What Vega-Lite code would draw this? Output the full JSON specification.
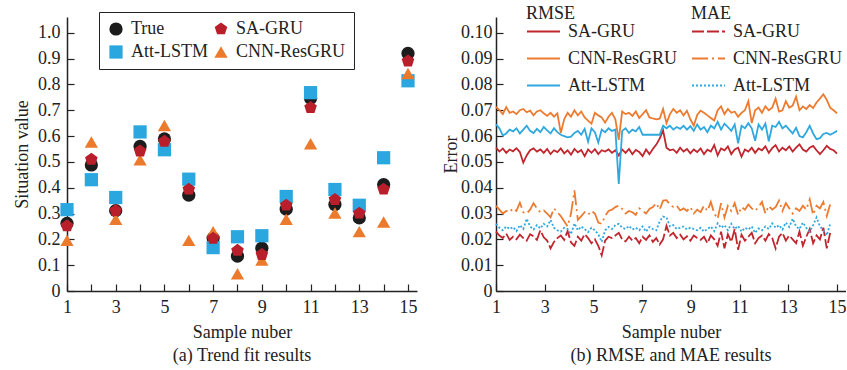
{
  "$schema": "https://vega.github.io/schema/vega-lite/v6.json",
  "padding": {"left": 13, "top": 5, "right": 0, "bottom": 0},
  "background": "white",
  "spacing": 25,
  "config": {
    "font": "Liberation Serif",
    "view": {"stroke": null},
    "axis": {
      "domainColor": "#222",
      "domainWidth": 1.5,
      "tickColor": "#222",
      "tickWidth": 1.2,
      "tickSize": -7,
      "grid": false,
      "labelOverlap": false,
      "labelFont": "Liberation Serif",
      "labelFontSize": 18,
      "labelColor": "#222",
      "titleFont": "Liberation Serif",
      "titleFontSize": 18,
      "titleFontWeight": "normal",
      "titleColor": "#222"
    },
    "legend": {
      "labelFont": "Liberation Serif",
      "labelFontSize": 18,
      "labelColor": "#222",
      "titleFont": "Liberation Serif",
      "titleFontSize": 18,
      "titleFontWeight": "normal",
      "titleColor": "#222"
    },
    "title": {"font": "Liberation Serif", "fontSize": 18, "fontWeight": "normal", "color": "#222"}
  },
  "resolve": {"scale": {"color": "independent", "shape": "independent", "strokeDash": "independent", "x": "independent", "y": "independent"}},
  "datasets": {
    "fit": [
      {"model": "True", "sample": 1, "value": 0.262}, {"model": "True", "sample": 2, "value": 0.488}, {"model": "True", "sample": 3, "value": 0.311}, {"model": "True", "sample": 4, "value": 0.560}, {"model": "True", "sample": 5, "value": 0.589}, {"model": "True", "sample": 6, "value": 0.371}, {"model": "True", "sample": 7, "value": 0.205}, {"model": "True", "sample": 8, "value": 0.135}, {"model": "True", "sample": 9, "value": 0.166}, {"model": "True", "sample": 10, "value": 0.317}, {"model": "True", "sample": 11, "value": 0.746}, {"model": "True", "sample": 12, "value": 0.335}, {"model": "True", "sample": 13, "value": 0.283}, {"model": "True", "sample": 14, "value": 0.412}, {"model": "True", "sample": 15, "value": 0.920},
      {"model": "Att-LSTM", "sample": 1, "value": 0.315}, {"model": "Att-LSTM", "sample": 2, "value": 0.431}, {"model": "Att-LSTM", "sample": 3, "value": 0.362}, {"model": "Att-LSTM", "sample": 4, "value": 0.616}, {"model": "Att-LSTM", "sample": 5, "value": 0.547}, {"model": "Att-LSTM", "sample": 6, "value": 0.433}, {"model": "Att-LSTM", "sample": 7, "value": 0.168}, {"model": "Att-LSTM", "sample": 8, "value": 0.210}, {"model": "Att-LSTM", "sample": 9, "value": 0.214}, {"model": "Att-LSTM", "sample": 10, "value": 0.366}, {"model": "Att-LSTM", "sample": 11, "value": 0.768}, {"model": "Att-LSTM", "sample": 12, "value": 0.393}, {"model": "Att-LSTM", "sample": 13, "value": 0.332}, {"model": "Att-LSTM", "sample": 14, "value": 0.516}, {"model": "Att-LSTM", "sample": 15, "value": 0.814},
      {"model": "CNN-ResGRU", "sample": 1, "value": 0.196}, {"model": "CNN-ResGRU", "sample": 2, "value": 0.577}, {"model": "CNN-ResGRU", "sample": 3, "value": 0.278}, {"model": "CNN-ResGRU", "sample": 4, "value": 0.508}, {"model": "CNN-ResGRU", "sample": 5, "value": 0.641}, {"model": "CNN-ResGRU", "sample": 6, "value": 0.196}, {"model": "CNN-ResGRU", "sample": 7, "value": 0.230}, {"model": "CNN-ResGRU", "sample": 8, "value": 0.067}, {"model": "CNN-ResGRU", "sample": 9, "value": 0.120}, {"model": "CNN-ResGRU", "sample": 10, "value": 0.278}, {"model": "CNN-ResGRU", "sample": 11, "value": 0.570}, {"model": "CNN-ResGRU", "sample": 12, "value": 0.302}, {"model": "CNN-ResGRU", "sample": 13, "value": 0.230}, {"model": "CNN-ResGRU", "sample": 14, "value": 0.267}, {"model": "CNN-ResGRU", "sample": 15, "value": 0.842},
      {"model": "SA-GRU", "sample": 1, "value": 0.252}, {"model": "SA-GRU", "sample": 2, "value": 0.510}, {"model": "SA-GRU", "sample": 3, "value": 0.311}, {"model": "SA-GRU", "sample": 4, "value": 0.542}, {"model": "SA-GRU", "sample": 5, "value": 0.579}, {"model": "SA-GRU", "sample": 6, "value": 0.394}, {"model": "SA-GRU", "sample": 7, "value": 0.204}, {"model": "SA-GRU", "sample": 8, "value": 0.157}, {"model": "SA-GRU", "sample": 9, "value": 0.141}, {"model": "SA-GRU", "sample": 10, "value": 0.332}, {"model": "SA-GRU", "sample": 11, "value": 0.710}, {"model": "SA-GRU", "sample": 12, "value": 0.354}, {"model": "SA-GRU", "sample": 13, "value": 0.301}, {"model": "SA-GRU", "sample": 14, "value": 0.394}, {"model": "SA-GRU", "sample": 15, "value": 0.890}
    ],
    "rmse": [
      {"x": 1.00, "SA-GRU": 0.0555, "CNN-ResGRU": 0.0713, "Att-LSTM": 0.0645},
      {"x": 1.14, "SA-GRU": 0.0540, "CNN-ResGRU": 0.0700, "Att-LSTM": 0.0630},
      {"x": 1.28, "SA-GRU": 0.0552, "CNN-ResGRU": 0.0685, "Att-LSTM": 0.0602},
      {"x": 1.42, "SA-GRU": 0.0535, "CNN-ResGRU": 0.0712, "Att-LSTM": 0.0610},
      {"x": 1.56, "SA-GRU": 0.0548, "CNN-ResGRU": 0.0690, "Att-LSTM": 0.0625},
      {"x": 1.70, "SA-GRU": 0.0541, "CNN-ResGRU": 0.0695, "Att-LSTM": 0.0618},
      {"x": 1.84, "SA-GRU": 0.0553, "CNN-ResGRU": 0.0685, "Att-LSTM": 0.0630},
      {"x": 1.98, "SA-GRU": 0.0538, "CNN-ResGRU": 0.0700, "Att-LSTM": 0.0610},
      {"x": 2.12, "SA-GRU": 0.0497, "CNN-ResGRU": 0.0705, "Att-LSTM": 0.0625},
      {"x": 2.26, "SA-GRU": 0.0525, "CNN-ResGRU": 0.0692, "Att-LSTM": 0.0640},
      {"x": 2.40, "SA-GRU": 0.0545, "CNN-ResGRU": 0.0698, "Att-LSTM": 0.0620},
      {"x": 2.54, "SA-GRU": 0.0552, "CNN-ResGRU": 0.0680, "Att-LSTM": 0.0612},
      {"x": 2.68, "SA-GRU": 0.0540, "CNN-ResGRU": 0.0695, "Att-LSTM": 0.0628},
      {"x": 2.82, "SA-GRU": 0.0548, "CNN-ResGRU": 0.0700, "Att-LSTM": 0.0615},
      {"x": 2.96, "SA-GRU": 0.0535, "CNN-ResGRU": 0.0688, "Att-LSTM": 0.0635},
      {"x": 3.10, "SA-GRU": 0.0550, "CNN-ResGRU": 0.0678, "Att-LSTM": 0.0622},
      {"x": 3.24, "SA-GRU": 0.0530, "CNN-ResGRU": 0.0690, "Att-LSTM": 0.0610},
      {"x": 3.38, "SA-GRU": 0.0545, "CNN-ResGRU": 0.0675, "Att-LSTM": 0.0630},
      {"x": 3.52, "SA-GRU": 0.0538, "CNN-ResGRU": 0.0688, "Att-LSTM": 0.0615},
      {"x": 3.66, "SA-GRU": 0.0552, "CNN-ResGRU": 0.0612, "Att-LSTM": 0.0605},
      {"x": 3.80, "SA-GRU": 0.0533, "CNN-ResGRU": 0.0665, "Att-LSTM": 0.0600},
      {"x": 3.94, "SA-GRU": 0.0545, "CNN-ResGRU": 0.0690, "Att-LSTM": 0.0595},
      {"x": 4.08, "SA-GRU": 0.0528, "CNN-ResGRU": 0.0675, "Att-LSTM": 0.0598},
      {"x": 4.22, "SA-GRU": 0.0550, "CNN-ResGRU": 0.0700, "Att-LSTM": 0.0612},
      {"x": 4.36, "SA-GRU": 0.0537, "CNN-ResGRU": 0.0680, "Att-LSTM": 0.0620},
      {"x": 4.50, "SA-GRU": 0.0546, "CNN-ResGRU": 0.0695, "Att-LSTM": 0.0605},
      {"x": 4.64, "SA-GRU": 0.0522, "CNN-ResGRU": 0.0672, "Att-LSTM": 0.0628},
      {"x": 4.78, "SA-GRU": 0.0548, "CNN-ResGRU": 0.0660, "Att-LSTM": 0.0578},
      {"x": 4.92, "SA-GRU": 0.0535, "CNN-ResGRU": 0.0648, "Att-LSTM": 0.0630},
      {"x": 5.06, "SA-GRU": 0.0549, "CNN-ResGRU": 0.0690, "Att-LSTM": 0.0615},
      {"x": 5.20, "SA-GRU": 0.0530, "CNN-ResGRU": 0.0680, "Att-LSTM": 0.0575},
      {"x": 5.34, "SA-GRU": 0.0545, "CNN-ResGRU": 0.0672, "Att-LSTM": 0.0625},
      {"x": 5.48, "SA-GRU": 0.0540, "CNN-ResGRU": 0.0652, "Att-LSTM": 0.0615},
      {"x": 5.62, "SA-GRU": 0.0548, "CNN-ResGRU": 0.0675, "Att-LSTM": 0.0630},
      {"x": 5.76, "SA-GRU": 0.0535, "CNN-ResGRU": 0.0690, "Att-LSTM": 0.0620},
      {"x": 5.90, "SA-GRU": 0.0545, "CNN-ResGRU": 0.0665, "Att-LSTM": 0.0625},
      {"x": 6.04, "SA-GRU": 0.0525, "CNN-ResGRU": 0.0585, "Att-LSTM": 0.0415},
      {"x": 6.18, "SA-GRU": 0.0548, "CNN-ResGRU": 0.0695, "Att-LSTM": 0.0620},
      {"x": 6.32, "SA-GRU": 0.0535, "CNN-ResGRU": 0.0685, "Att-LSTM": 0.0630},
      {"x": 6.46, "SA-GRU": 0.0550, "CNN-ResGRU": 0.0690, "Att-LSTM": 0.0612},
      {"x": 6.60, "SA-GRU": 0.0530, "CNN-ResGRU": 0.0678, "Att-LSTM": 0.0625},
      {"x": 6.74, "SA-GRU": 0.0546, "CNN-ResGRU": 0.0695, "Att-LSTM": 0.0618},
      {"x": 6.88, "SA-GRU": 0.0538, "CNN-ResGRU": 0.0670, "Att-LSTM": 0.0635},
      {"x": 7.02, "SA-GRU": 0.0522, "CNN-ResGRU": 0.0685, "Att-LSTM": 0.0605},
      {"x": 7.16, "SA-GRU": 0.0548, "CNN-ResGRU": 0.0700, "Att-LSTM": 0.0605},
      {"x": 7.30, "SA-GRU": 0.0530, "CNN-ResGRU": 0.0672, "Att-LSTM": 0.0605},
      {"x": 7.44, "SA-GRU": 0.0550, "CNN-ResGRU": 0.0668, "Att-LSTM": 0.0605},
      {"x": 7.58, "SA-GRU": 0.0567, "CNN-ResGRU": 0.0665, "Att-LSTM": 0.0605},
      {"x": 7.72, "SA-GRU": 0.0590, "CNN-ResGRU": 0.0667, "Att-LSTM": 0.0605},
      {"x": 7.86, "SA-GRU": 0.0622, "CNN-ResGRU": 0.0705, "Att-LSTM": 0.0640},
      {"x": 8.00, "SA-GRU": 0.0555, "CNN-ResGRU": 0.0650, "Att-LSTM": 0.0630},
      {"x": 8.14, "SA-GRU": 0.0545, "CNN-ResGRU": 0.0685, "Att-LSTM": 0.0640},
      {"x": 8.28, "SA-GRU": 0.0548, "CNN-ResGRU": 0.0705, "Att-LSTM": 0.0625},
      {"x": 8.42, "SA-GRU": 0.0535, "CNN-ResGRU": 0.0690, "Att-LSTM": 0.0635},
      {"x": 8.56, "SA-GRU": 0.0555, "CNN-ResGRU": 0.0700, "Att-LSTM": 0.0628},
      {"x": 8.70, "SA-GRU": 0.0540, "CNN-ResGRU": 0.0680, "Att-LSTM": 0.0640},
      {"x": 8.84, "SA-GRU": 0.0550, "CNN-ResGRU": 0.0698, "Att-LSTM": 0.0625},
      {"x": 8.98, "SA-GRU": 0.0533, "CNN-ResGRU": 0.0665, "Att-LSTM": 0.0638},
      {"x": 9.12, "SA-GRU": 0.0548, "CNN-ResGRU": 0.0640, "Att-LSTM": 0.0620},
      {"x": 9.26, "SA-GRU": 0.0538, "CNN-ResGRU": 0.0682, "Att-LSTM": 0.0645},
      {"x": 9.40, "SA-GRU": 0.0552, "CNN-ResGRU": 0.0698, "Att-LSTM": 0.0625},
      {"x": 9.54, "SA-GRU": 0.0530, "CNN-ResGRU": 0.0690, "Att-LSTM": 0.0635},
      {"x": 9.68, "SA-GRU": 0.0547, "CNN-ResGRU": 0.0680, "Att-LSTM": 0.0615},
      {"x": 9.82, "SA-GRU": 0.0540, "CNN-ResGRU": 0.0670, "Att-LSTM": 0.0640},
      {"x": 9.96, "SA-GRU": 0.0565, "CNN-ResGRU": 0.0660, "Att-LSTM": 0.0630},
      {"x": 10.10, "SA-GRU": 0.0525, "CNN-ResGRU": 0.0700, "Att-LSTM": 0.0655},
      {"x": 10.24, "SA-GRU": 0.0552, "CNN-ResGRU": 0.0715, "Att-LSTM": 0.0625},
      {"x": 10.38, "SA-GRU": 0.0545, "CNN-ResGRU": 0.0685, "Att-LSTM": 0.0648},
      {"x": 10.52, "SA-GRU": 0.0560, "CNN-ResGRU": 0.0705, "Att-LSTM": 0.0635},
      {"x": 10.66, "SA-GRU": 0.0530, "CNN-ResGRU": 0.0690, "Att-LSTM": 0.0620},
      {"x": 10.80, "SA-GRU": 0.0548, "CNN-ResGRU": 0.0695, "Att-LSTM": 0.0645},
      {"x": 10.94, "SA-GRU": 0.0555, "CNN-ResGRU": 0.0675, "Att-LSTM": 0.0572},
      {"x": 11.08, "SA-GRU": 0.0520, "CNN-ResGRU": 0.0690, "Att-LSTM": 0.0640},
      {"x": 11.22, "SA-GRU": 0.0548, "CNN-ResGRU": 0.0700, "Att-LSTM": 0.0630},
      {"x": 11.36, "SA-GRU": 0.0540, "CNN-ResGRU": 0.0735, "Att-LSTM": 0.0650},
      {"x": 11.50, "SA-GRU": 0.0555, "CNN-ResGRU": 0.0650, "Att-LSTM": 0.0630},
      {"x": 11.64, "SA-GRU": 0.0535, "CNN-ResGRU": 0.0700, "Att-LSTM": 0.0582},
      {"x": 11.78, "SA-GRU": 0.0552, "CNN-ResGRU": 0.0710, "Att-LSTM": 0.0645},
      {"x": 11.92, "SA-GRU": 0.0545, "CNN-ResGRU": 0.0690, "Att-LSTM": 0.0625},
      {"x": 12.06, "SA-GRU": 0.0560, "CNN-ResGRU": 0.0715, "Att-LSTM": 0.0648},
      {"x": 12.20, "SA-GRU": 0.0535, "CNN-ResGRU": 0.0700, "Att-LSTM": 0.0580},
      {"x": 12.34, "SA-GRU": 0.0553, "CNN-ResGRU": 0.0710, "Att-LSTM": 0.0640},
      {"x": 12.48, "SA-GRU": 0.0565, "CNN-ResGRU": 0.0745, "Att-LSTM": 0.0635},
      {"x": 12.62, "SA-GRU": 0.0540, "CNN-ResGRU": 0.0695, "Att-LSTM": 0.0655},
      {"x": 12.76, "SA-GRU": 0.0555, "CNN-ResGRU": 0.0700, "Att-LSTM": 0.0630},
      {"x": 12.90, "SA-GRU": 0.0545, "CNN-ResGRU": 0.0735, "Att-LSTM": 0.0640},
      {"x": 13.04, "SA-GRU": 0.0560, "CNN-ResGRU": 0.0710, "Att-LSTM": 0.0625},
      {"x": 13.18, "SA-GRU": 0.0540, "CNN-ResGRU": 0.0718, "Att-LSTM": 0.0610},
      {"x": 13.32, "SA-GRU": 0.0555, "CNN-ResGRU": 0.0752, "Att-LSTM": 0.0632},
      {"x": 13.46, "SA-GRU": 0.0568, "CNN-ResGRU": 0.0700, "Att-LSTM": 0.0600},
      {"x": 13.60, "SA-GRU": 0.0548, "CNN-ResGRU": 0.0715, "Att-LSTM": 0.0595},
      {"x": 13.74, "SA-GRU": 0.0540, "CNN-ResGRU": 0.0705, "Att-LSTM": 0.0615},
      {"x": 13.88, "SA-GRU": 0.0555, "CNN-ResGRU": 0.0720, "Att-LSTM": 0.0640},
      {"x": 14.02, "SA-GRU": 0.0562, "CNN-ResGRU": 0.0708, "Att-LSTM": 0.0610},
      {"x": 14.16, "SA-GRU": 0.0545, "CNN-ResGRU": 0.0730, "Att-LSTM": 0.0588},
      {"x": 14.30, "SA-GRU": 0.0530, "CNN-ResGRU": 0.0745, "Att-LSTM": 0.0592},
      {"x": 14.44, "SA-GRU": 0.0545, "CNN-ResGRU": 0.0762, "Att-LSTM": 0.0608},
      {"x": 14.58, "SA-GRU": 0.0562, "CNN-ResGRU": 0.0740, "Att-LSTM": 0.0612},
      {"x": 14.72, "SA-GRU": 0.0550, "CNN-ResGRU": 0.0710, "Att-LSTM": 0.0605},
      {"x": 14.86, "SA-GRU": 0.0545, "CNN-ResGRU": 0.0700, "Att-LSTM": 0.0612},
      {"x": 15.00, "SA-GRU": 0.0532, "CNN-ResGRU": 0.0688, "Att-LSTM": 0.0620}
    ],
    "mae": [
      {"x": 1.00, "SA-GRU": 0.0230, "CNN-ResGRU": 0.0330, "Att-LSTM": 0.0260},
      {"x": 1.14, "SA-GRU": 0.0215, "CNN-ResGRU": 0.0315, "Att-LSTM": 0.0245},
      {"x": 1.28, "SA-GRU": 0.0205, "CNN-ResGRU": 0.0300, "Att-LSTM": 0.0235},
      {"x": 1.42, "SA-GRU": 0.0222, "CNN-ResGRU": 0.0310, "Att-LSTM": 0.0250},
      {"x": 1.56, "SA-GRU": 0.0198, "CNN-ResGRU": 0.0305, "Att-LSTM": 0.0240},
      {"x": 1.70, "SA-GRU": 0.0210, "CNN-ResGRU": 0.0320, "Att-LSTM": 0.0248},
      {"x": 1.84, "SA-GRU": 0.0200, "CNN-ResGRU": 0.0310, "Att-LSTM": 0.0232},
      {"x": 1.98, "SA-GRU": 0.0218, "CNN-ResGRU": 0.0342, "Att-LSTM": 0.0255},
      {"x": 2.12, "SA-GRU": 0.0205, "CNN-ResGRU": 0.0305, "Att-LSTM": 0.0240},
      {"x": 2.26, "SA-GRU": 0.0195, "CNN-ResGRU": 0.0300, "Att-LSTM": 0.0280},
      {"x": 2.40, "SA-GRU": 0.0220, "CNN-ResGRU": 0.0315, "Att-LSTM": 0.0250},
      {"x": 2.54, "SA-GRU": 0.0212, "CNN-ResGRU": 0.0340, "Att-LSTM": 0.0238},
      {"x": 2.68, "SA-GRU": 0.0198, "CNN-ResGRU": 0.0320, "Att-LSTM": 0.0255},
      {"x": 2.82, "SA-GRU": 0.0235, "CNN-ResGRU": 0.0305, "Att-LSTM": 0.0242},
      {"x": 2.96, "SA-GRU": 0.0208, "CNN-ResGRU": 0.0312, "Att-LSTM": 0.0260},
      {"x": 3.10, "SA-GRU": 0.0195, "CNN-ResGRU": 0.0300, "Att-LSTM": 0.0250},
      {"x": 3.24, "SA-GRU": 0.0165, "CNN-ResGRU": 0.0285, "Att-LSTM": 0.0275},
      {"x": 3.38, "SA-GRU": 0.0190, "CNN-ResGRU": 0.0320, "Att-LSTM": 0.0245},
      {"x": 3.52, "SA-GRU": 0.0205, "CNN-ResGRU": 0.0305, "Att-LSTM": 0.0235},
      {"x": 3.66, "SA-GRU": 0.0215, "CNN-ResGRU": 0.0290, "Att-LSTM": 0.0230},
      {"x": 3.80, "SA-GRU": 0.0198, "CNN-ResGRU": 0.0270, "Att-LSTM": 0.0245},
      {"x": 3.94, "SA-GRU": 0.0232, "CNN-ResGRU": 0.0250, "Att-LSTM": 0.0240},
      {"x": 4.08, "SA-GRU": 0.0188, "CNN-ResGRU": 0.0300, "Att-LSTM": 0.0220},
      {"x": 4.22, "SA-GRU": 0.0175, "CNN-ResGRU": 0.0390, "Att-LSTM": 0.0262},
      {"x": 4.36, "SA-GRU": 0.0210, "CNN-ResGRU": 0.0275, "Att-LSTM": 0.0235},
      {"x": 4.50, "SA-GRU": 0.0195, "CNN-ResGRU": 0.0290, "Att-LSTM": 0.0250},
      {"x": 4.64, "SA-GRU": 0.0220, "CNN-ResGRU": 0.0305, "Att-LSTM": 0.0240},
      {"x": 4.78, "SA-GRU": 0.0205, "CNN-ResGRU": 0.0295, "Att-LSTM": 0.0228},
      {"x": 4.92, "SA-GRU": 0.0185, "CNN-ResGRU": 0.0310, "Att-LSTM": 0.0245},
      {"x": 5.06, "SA-GRU": 0.0200, "CNN-ResGRU": 0.0300, "Att-LSTM": 0.0235},
      {"x": 5.20, "SA-GRU": 0.0175, "CNN-ResGRU": 0.0265, "Att-LSTM": 0.0220},
      {"x": 5.34, "SA-GRU": 0.0138, "CNN-ResGRU": 0.0260, "Att-LSTM": 0.0190},
      {"x": 5.48, "SA-GRU": 0.0195, "CNN-ResGRU": 0.0290, "Att-LSTM": 0.0235},
      {"x": 5.62, "SA-GRU": 0.0210, "CNN-ResGRU": 0.0310, "Att-LSTM": 0.0248},
      {"x": 5.76, "SA-GRU": 0.0205, "CNN-ResGRU": 0.0315, "Att-LSTM": 0.0240},
      {"x": 5.90, "SA-GRU": 0.0215, "CNN-ResGRU": 0.0325, "Att-LSTM": 0.0255},
      {"x": 6.04, "SA-GRU": 0.0225, "CNN-ResGRU": 0.0330, "Att-LSTM": 0.0260},
      {"x": 6.18, "SA-GRU": 0.0200, "CNN-ResGRU": 0.0318, "Att-LSTM": 0.0245},
      {"x": 6.32, "SA-GRU": 0.0192, "CNN-ResGRU": 0.0300, "Att-LSTM": 0.0240},
      {"x": 6.46, "SA-GRU": 0.0210, "CNN-ResGRU": 0.0310, "Att-LSTM": 0.0252},
      {"x": 6.60, "SA-GRU": 0.0195, "CNN-ResGRU": 0.0305, "Att-LSTM": 0.0238},
      {"x": 6.74, "SA-GRU": 0.0205, "CNN-ResGRU": 0.0295, "Att-LSTM": 0.0245},
      {"x": 6.88, "SA-GRU": 0.0185, "CNN-ResGRU": 0.0320, "Att-LSTM": 0.0235},
      {"x": 7.02, "SA-GRU": 0.0210, "CNN-ResGRU": 0.0310, "Att-LSTM": 0.0250},
      {"x": 7.16, "SA-GRU": 0.0198, "CNN-ResGRU": 0.0300, "Att-LSTM": 0.0230},
      {"x": 7.30, "SA-GRU": 0.0215, "CNN-ResGRU": 0.0318, "Att-LSTM": 0.0248},
      {"x": 7.44, "SA-GRU": 0.0190, "CNN-ResGRU": 0.0325, "Att-LSTM": 0.0240},
      {"x": 7.58, "SA-GRU": 0.0205, "CNN-ResGRU": 0.0340, "Att-LSTM": 0.0235},
      {"x": 7.72, "SA-GRU": 0.0180, "CNN-ResGRU": 0.0315, "Att-LSTM": 0.0270},
      {"x": 7.86, "SA-GRU": 0.0200, "CNN-ResGRU": 0.0350, "Att-LSTM": 0.0288},
      {"x": 8.00, "SA-GRU": 0.0252, "CNN-ResGRU": 0.0352, "Att-LSTM": 0.0285},
      {"x": 8.14, "SA-GRU": 0.0215, "CNN-ResGRU": 0.0335, "Att-LSTM": 0.0250},
      {"x": 8.28, "SA-GRU": 0.0225, "CNN-ResGRU": 0.0325, "Att-LSTM": 0.0255},
      {"x": 8.42, "SA-GRU": 0.0205, "CNN-ResGRU": 0.0330, "Att-LSTM": 0.0240},
      {"x": 8.56, "SA-GRU": 0.0218, "CNN-ResGRU": 0.0312, "Att-LSTM": 0.0245},
      {"x": 8.70, "SA-GRU": 0.0200, "CNN-ResGRU": 0.0320, "Att-LSTM": 0.0250},
      {"x": 8.84, "SA-GRU": 0.0212, "CNN-ResGRU": 0.0310, "Att-LSTM": 0.0238},
      {"x": 8.98, "SA-GRU": 0.0195, "CNN-ResGRU": 0.0325, "Att-LSTM": 0.0245},
      {"x": 9.12, "SA-GRU": 0.0215, "CNN-ResGRU": 0.0300, "Att-LSTM": 0.0240},
      {"x": 9.26, "SA-GRU": 0.0205, "CNN-ResGRU": 0.0315, "Att-LSTM": 0.0235},
      {"x": 9.40, "SA-GRU": 0.0198, "CNN-ResGRU": 0.0305, "Att-LSTM": 0.0245},
      {"x": 9.54, "SA-GRU": 0.0210, "CNN-ResGRU": 0.0330, "Att-LSTM": 0.0230},
      {"x": 9.68, "SA-GRU": 0.0185, "CNN-ResGRU": 0.0310, "Att-LSTM": 0.0240},
      {"x": 9.82, "SA-GRU": 0.0215, "CNN-ResGRU": 0.0345, "Att-LSTM": 0.0250},
      {"x": 9.96, "SA-GRU": 0.0200, "CNN-ResGRU": 0.0300, "Att-LSTM": 0.0232},
      {"x": 10.10, "SA-GRU": 0.0175, "CNN-ResGRU": 0.0280, "Att-LSTM": 0.0262},
      {"x": 10.24, "SA-GRU": 0.0230, "CNN-ResGRU": 0.0340, "Att-LSTM": 0.0245},
      {"x": 10.38, "SA-GRU": 0.0165, "CNN-ResGRU": 0.0285, "Att-LSTM": 0.0255},
      {"x": 10.52, "SA-GRU": 0.0220, "CNN-ResGRU": 0.0330, "Att-LSTM": 0.0235},
      {"x": 10.66, "SA-GRU": 0.0190, "CNN-ResGRU": 0.0310, "Att-LSTM": 0.0260},
      {"x": 10.80, "SA-GRU": 0.0240, "CNN-ResGRU": 0.0340, "Att-LSTM": 0.0240},
      {"x": 10.94, "SA-GRU": 0.0160, "CNN-ResGRU": 0.0295, "Att-LSTM": 0.0252},
      {"x": 11.08, "SA-GRU": 0.0218, "CNN-ResGRU": 0.0325, "Att-LSTM": 0.0230},
      {"x": 11.22, "SA-GRU": 0.0195, "CNN-ResGRU": 0.0315, "Att-LSTM": 0.0245},
      {"x": 11.36, "SA-GRU": 0.0210, "CNN-ResGRU": 0.0335, "Att-LSTM": 0.0238},
      {"x": 11.50, "SA-GRU": 0.0225, "CNN-ResGRU": 0.0320, "Att-LSTM": 0.0250},
      {"x": 11.64, "SA-GRU": 0.0185, "CNN-ResGRU": 0.0310, "Att-LSTM": 0.0225},
      {"x": 11.78, "SA-GRU": 0.0205, "CNN-ResGRU": 0.0325, "Att-LSTM": 0.0242},
      {"x": 11.92, "SA-GRU": 0.0215, "CNN-ResGRU": 0.0345, "Att-LSTM": 0.0235},
      {"x": 12.06, "SA-GRU": 0.0195, "CNN-ResGRU": 0.0300, "Att-LSTM": 0.0250},
      {"x": 12.20, "SA-GRU": 0.0220, "CNN-ResGRU": 0.0330, "Att-LSTM": 0.0240},
      {"x": 12.34, "SA-GRU": 0.0205, "CNN-ResGRU": 0.0315, "Att-LSTM": 0.0262},
      {"x": 12.48, "SA-GRU": 0.0165, "CNN-ResGRU": 0.0325, "Att-LSTM": 0.0245},
      {"x": 12.62, "SA-GRU": 0.0210, "CNN-ResGRU": 0.0350, "Att-LSTM": 0.0255},
      {"x": 12.76, "SA-GRU": 0.0225, "CNN-ResGRU": 0.0310, "Att-LSTM": 0.0238},
      {"x": 12.90, "SA-GRU": 0.0195, "CNN-ResGRU": 0.0340, "Att-LSTM": 0.0265},
      {"x": 13.04, "SA-GRU": 0.0215, "CNN-ResGRU": 0.0320, "Att-LSTM": 0.0248},
      {"x": 13.18, "SA-GRU": 0.0200, "CNN-ResGRU": 0.0300, "Att-LSTM": 0.0280},
      {"x": 13.32, "SA-GRU": 0.0185, "CNN-ResGRU": 0.0320, "Att-LSTM": 0.0250},
      {"x": 13.46, "SA-GRU": 0.0230, "CNN-ResGRU": 0.0310, "Att-LSTM": 0.0240},
      {"x": 13.60, "SA-GRU": 0.0175, "CNN-ResGRU": 0.0330, "Att-LSTM": 0.0265},
      {"x": 13.74, "SA-GRU": 0.0210, "CNN-ResGRU": 0.0315, "Att-LSTM": 0.0245},
      {"x": 13.88, "SA-GRU": 0.0240, "CNN-ResGRU": 0.0355, "Att-LSTM": 0.0230},
      {"x": 14.02, "SA-GRU": 0.0185, "CNN-ResGRU": 0.0295, "Att-LSTM": 0.0255},
      {"x": 14.16, "SA-GRU": 0.0215, "CNN-ResGRU": 0.0330, "Att-LSTM": 0.0285},
      {"x": 14.30, "SA-GRU": 0.0200, "CNN-ResGRU": 0.0320, "Att-LSTM": 0.0250},
      {"x": 14.44, "SA-GRU": 0.0245, "CNN-ResGRU": 0.0345, "Att-LSTM": 0.0235},
      {"x": 14.58, "SA-GRU": 0.0165, "CNN-ResGRU": 0.0290, "Att-LSTM": 0.0215},
      {"x": 14.72, "SA-GRU": 0.0225, "CNN-ResGRU": 0.0335, "Att-LSTM": 0.0260}
    ]
  },
  "hconcat": [
    {
      "width": 350,
      "height": 274,
      "title": {"text": "(a) Trend fit results", "orient": "bottom", "offset": 6},
      "data": {"name": "fit"},
      "mark": {"type": "point", "filled": true, "opacity": 1, "size": 175},
      "encoding": {
        "x": {
          "field": "sample", "type": "quantitative",
          "scale": {"domain": [1, 15.37], "nice": false, "zero": false},
          "axis": {"title": "Sample nuber", "values": [1,2,3,4,5,6,7,8,9,10,11,12,13,14,15], "labelExpr": "datum.value % 2 == 1 ? datum.label : ''", "labelPadding": 14, "titlePadding": 7, "labelFlush": false, "labelOverlap": false}
        },
        "y": {
          "field": "value", "type": "quantitative",
          "scale": {"domain": [0, 1.061], "nice": false},
          "axis": {"title": "Situation value", "values": [0,0.1,0.2,0.3,0.4,0.5,0.6,0.7,0.8,0.9,1.0], "labelExpr": "datum.value == 0 ? '0' : format(datum.value, '.1f')", "labelPadding": 14, "titlePadding": 6, "labelOverlap": false}
        },
        "color": {
          "field": "model", "type": "nominal",
          "scale": {"domain": ["True", "Att-LSTM", "SA-GRU", "CNN-ResGRU"], "range": ["#1c1c1c", "#2ba7df", "#b81f2b", "#ec7a2d"]},
          "legend": {"orient": "none", "legendX": 32, "legendY": -5, "columns": 2, "title": null, "strokeColor": "#222", "fillColor": "white", "padding": 8, "rowPadding": 5, "columnPadding": 3, "symbolSize": 175, "labelOffset": 6}
        },
        "shape": {
          "field": "model", "type": "nominal",
          "scale": {"domain": ["True", "Att-LSTM", "SA-GRU", "CNN-ResGRU"], "range": ["circle", "square", "M0,-1L0.951,-0.309L0.588,0.809L-0.588,0.809L-0.951,-0.309Z", "triangle-up"]},
          "legend": {"orient": "none", "legendX": 32, "legendY": -5, "columns": 2, "title": null, "strokeColor": "#222", "fillColor": "white", "padding": 8, "rowPadding": 5, "columnPadding": 3, "symbolSize": 175, "labelOffset": 6}
        }
      }
    },
    {
      "width": 350,
      "height": 274,
      "title": {"text": "(b) RMSE and MAE results", "orient": "bottom", "offset": 6},
      "resolve": {"scale": {"color": "independent", "strokeDash": "independent"}},
      "layer": [
        {
          "data": {"name": "rmse"},
          "transform": [{"fold": ["SA-GRU", "CNN-ResGRU", "Att-LSTM"], "as": ["model", "v"]}],
          "mark": {"type": "line", "strokeWidth": 1.8},
          "encoding": {
            "x": {
              "field": "x", "type": "quantitative",
              "scale": {"domain": [1, 15.37], "nice": false, "zero": false},
              "axis": {"title": "Sample nuber", "values": [1,2,3,4,5,6,7,8,9,10,11,12,13,14,15], "labelExpr": "datum.value % 2 == 1 ? datum.label : ''", "labelPadding": 14, "titlePadding": 7, "labelFlush": false, "labelOverlap": false}
            },
            "y": {
              "field": "v", "type": "quantitative",
              "scale": {"domain": [0, 0.1061], "nice": false},
              "axis": {"title": "Error", "values": [0,0.01,0.02,0.03,0.04,0.05,0.06,0.07,0.08,0.09,0.1], "labelExpr": "datum.value == 0 ? '0' : format(datum.value, '.2f')", "labelPadding": 11, "titlePadding": 0, "labelOverlap": false, "tickCount": 11}
            },
            "color": {
              "field": "model", "type": "nominal",
              "scale": {"domain": ["SA-GRU", "CNN-ResGRU", "Att-LSTM"], "range": ["#c0262d", "#ec7b30", "#2ea8df"]},
              "legend": {"title": "RMSE", "orient": "none", "legendX": 30, "legendY": -12, "padding": 0, "rowPadding": -4.5, "symbolType": "stroke", "symbolSize": 1089, "symbolStrokeWidth": 2, "labelOffset": 7, "titlePadding": -9}
            }
          }
        },
        {
          "data": {"name": "mae"},
          "transform": [{"fold": ["SA-GRU", "CNN-ResGRU", "Att-LSTM"], "as": ["model", "v"]}],
          "mark": {"type": "line", "strokeWidth": 1.8},
          "encoding": {
            "x": {"field": "x", "type": "quantitative"},
            "y": {"field": "v", "type": "quantitative"},
            "color": {
              "field": "model", "type": "nominal",
              "scale": {"domain": ["SA-GRU", "CNN-ResGRU", "Att-LSTM"], "range": ["#c0262d", "#ec7b30", "#2ea8df"]},
              "legend": {"title": "MAE", "orient": "none", "legendX": 195, "legendY": -12, "padding": 0, "rowPadding": -4.5, "symbolType": "stroke", "symbolSize": 1089, "symbolStrokeWidth": 2, "labelOffset": 7, "titlePadding": -9}
            },
            "strokeDash": {
              "field": "model", "type": "nominal",
              "scale": {"domain": ["SA-GRU", "CNN-ResGRU", "Att-LSTM"], "range": [[12, 3], [16, 4, 2, 4], [2, 2]]},
              "legend": {"title": "MAE", "orient": "none", "legendX": 195, "legendY": -12, "padding": 0, "rowPadding": -4.5, "symbolType": "stroke", "symbolSize": 1089, "symbolStrokeWidth": 2, "labelOffset": 7, "titlePadding": -9}
            }
          }
        }
      ]
    }
  ]
}
